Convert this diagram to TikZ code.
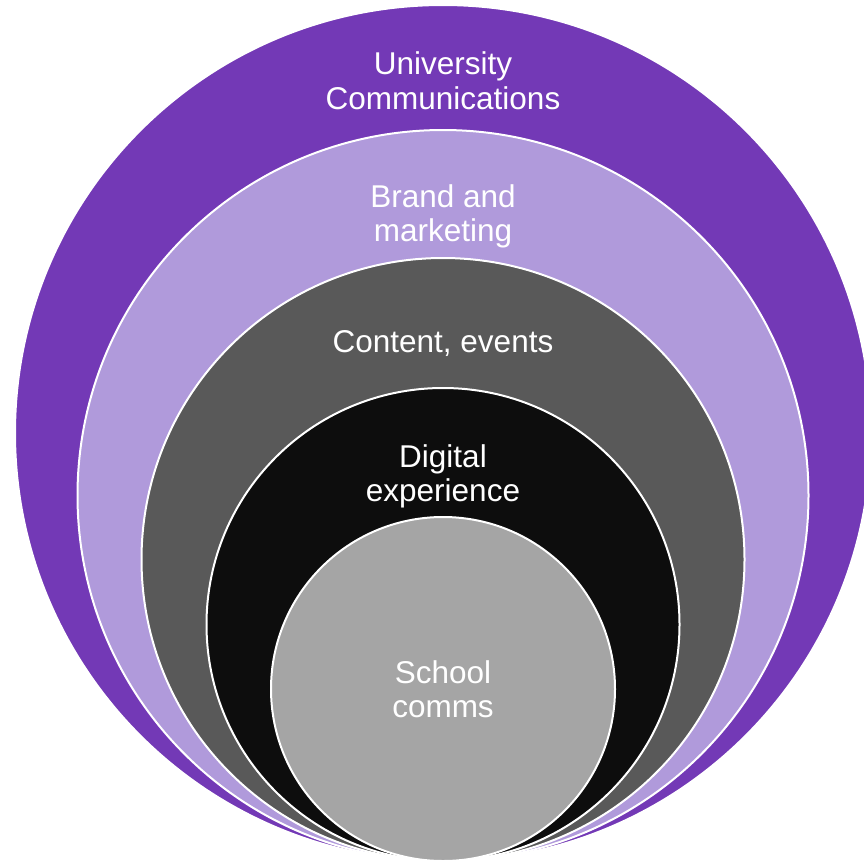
\documentclass[tikz,border=0pt]{standalone}
\usepackage{fontspec}
\setmainfont{Liberation Sans}
\definecolor{uPurple}{HTML}{7339B6}
\definecolor{lPurple}{HTML}{B09ADB}
\definecolor{dGray}{HTML}{595959}
\definecolor{nBlack}{HTML}{0D0D0D}
\definecolor{lGray}{HTML}{A5A5A5}
\begin{document}
\begin{tikzpicture}[x=1pt,y=-1pt,
  ring/.style={circle, draw=white, line width=2pt, inner sep=0pt},
  lbl/.style={text=white, anchor=base, inner sep=0pt, font=\fontsize{31.5}{35}\selectfont}]
\useasboundingbox (0,0) rectangle (864,863);
\clip (0,0) rectangle (864,863);
\node[ring, fill=uPurple, minimum size=856pt] (c1) at (443,433) {};
\node[ring, fill=lPurple, minimum size=731pt] (c2) at (443,495.5) {};
\node[ring, fill=dGray, minimum size=603pt] (c3) at (443,559.5) {};
\node[ring, fill=nBlack, minimum size=473pt] (c4) at (443,624.5) {};
\node[ring, fill=lGray, minimum size=344pt] (c5) at (443,689) {};
\node[lbl] (t1a) at (443,74) {University};
\node[lbl] (t1b) at (443,109) {Communications};
\node[lbl] (t2a) at (443,207) {Brand and};
\node[lbl] (t2b) at (443,241) {marketing};
\node[lbl] (t3) at (443,352) {Content, events};
\node[lbl] (t4a) at (443,467) {Digital};
\node[lbl] (t4b) at (443,501) {experience};
\node[lbl] (t5a) at (443,683) {School};
\node[lbl] (t5b) at (443,717) {comms};
\end{tikzpicture}
\end{document}
